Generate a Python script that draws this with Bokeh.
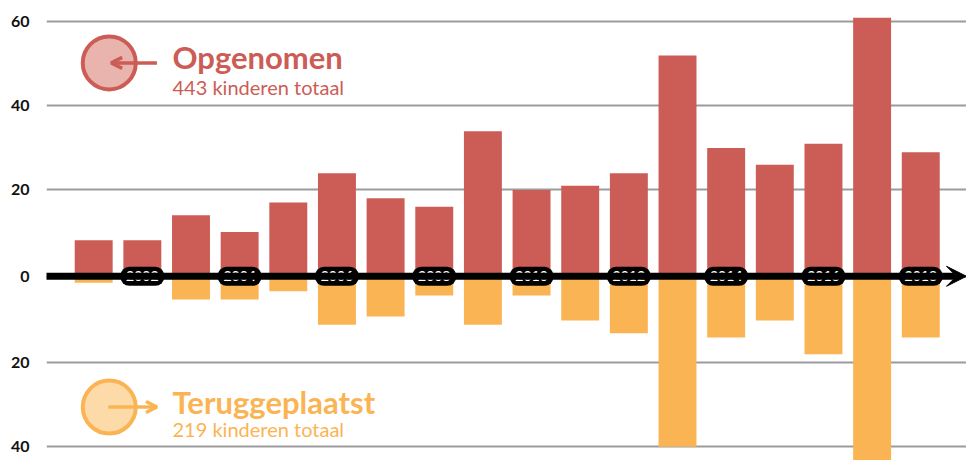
import numpy as np
from bokeh.plotting import figure
from bokeh.models import (ColumnDataSource, FixedTicker, CustomJSTickFormatter, Range1d,
                          Arrow, VeeHead, OpenHead, Label)
from bokeh.embed import file_html
from bokeh.resources import INLINE
from bokeh.core.properties import value

# ---- data ----
years = list(range(2001, 2019))
opgenomen = [8, 8, 14, 10, 17, 24, 18, 16, 34, 20, 21, 24, 52, 30, 26, 31, 61, 29]
teruggeplaatst = [1, 1, 5, 5, 3, 11, 9, 4, 11, 4, 10, 13, 40, 14, 10, 18, 46, 14]
label_years = [2002, 2004, 2006, 2008, 2010, 2012, 2014, 2016, 2018]
tick_values = [60, 40, 20, 0, 20, 40]
opg_title, opg_sub = "Opgenomen", "443 kinderen totaal"
ter_title, ter_sub = "Teruggeplaatst", "219 kinderen totaal"

RED = "#CB5D56"
ORANGE = "#FBB454"
GAP = 1.1  # visual gap (in value units) taken by the thick zero line

p = figure(width=966, height=460, output_backend="svg", toolbar_location=None,
           x_range=Range1d(2000.03, 2018.94), y_range=Range1d(-44.4, 65.1),
           min_border_left=46, min_border_right=0, min_border_top=0, min_border_bottom=0)
p.outline_line_color = None
p.xaxis.visible = False
p.xgrid.visible = False
p.background_fill_color = "white"
p.border_fill_color = "white"

# y axis with labels as absolute values, lower half shifted by the zero-line gap
ticks = [v for v in tick_values[:3]] + [-GAP / 2] + [-v - GAP for v in tick_values[4:]]
p.yaxis.ticker = FixedTicker(ticks=ticks)
p.yaxis.formatter = CustomJSTickFormatter(code="return String(Math.round(Math.abs(tick)/20)*20);")
p.yaxis.axis_line_color = None
p.yaxis.major_tick_line_color = None
p.yaxis.minor_tick_line_color = None
p.yaxis.major_label_standoff = 11
p.yaxis.major_label_text_font = "Lato"
p.yaxis.major_label_text_font_style = "bold"
p.yaxis.major_label_text_font_size = "16px"
p.yaxis.major_label_text_color = "#111111"
p.ygrid.grid_line_color = "#9B9B9B"
p.ygrid.grid_line_width = 2

ter_arr = np.array(teruggeplaatst, dtype=float)
src = ColumnDataSource(dict(year=years, opg=opgenomen,
                            ter_top=[-GAP] * len(years),
                            ter_bottom=list(-GAP - ter_arr)))

p.vbar(x="year", top="opg", bottom=0, width=0.78, source=src,
       fill_color=RED, line_color=None)
p.vbar(x="year", top="ter_top", bottom="ter_bottom", width=0.78, source=src,
       fill_color=ORANGE, line_color=None)

# zero line with arrow head
p.add_layout(Arrow(x_start=1999.95, y_start=-GAP / 2, x_end=2018.94, y_end=-GAP / 2,
                   line_color="black", line_width=7,
                   end=VeeHead(size=20, fill_color="black", line_color="black", line_width=1)))

# year pills
pill_src = ColumnDataSource(dict(x=label_years, y=[-GAP / 2] * len(label_years),
                                 t=[str(y) for y in label_years]))
p.rect(x="x", y="y", width=44, height=19, width_units="screen", height_units="screen",
       source=pill_src, fill_color="black", line_color=None, border_radius=9)
p.text(x="x", y="y", text="t", source=pill_src, text_color="white",
       text_font=value("Lato"), text_font_style="bold", text_font_size="14px",
       text_align="center", text_baseline="middle")

# legend markers
p.scatter(x=[2001.32], y=[50.24], size=53, marker="circle",
          fill_color="#E8B4AD", line_color=RED, line_width=4)
p.scatter(x=[2001.32], y=[-31.67], size=53, marker="circle",
          fill_color="#FDDBA8", line_color=ORANGE, line_width=4)
p.add_layout(Arrow(x_start=2002.30, y_start=50.24, x_end=2001.36, y_end=50.24,
                   line_color=RED, line_width=3.5,
                   end=OpenHead(size=11, line_color=RED, line_width=3.5)))
p.add_layout(Arrow(x_start=2001.30, y_start=-31.67, x_end=2002.30, y_end=-31.67,
                   line_color=ORANGE, line_width=3.5,
                   end=OpenHead(size=11, line_color=ORANGE, line_width=3.5)))

# legend texts
for txt, y, size, style, col in [
    (opg_title, 51.55, "31px", "bold", RED),
    (opg_sub, 44.4, "20px", "normal", RED),
    (ter_title, -30.52, "31px", "bold", ORANGE),
    (ter_sub, -37.02, "20px", "normal", ORANGE),
]:
    p.add_layout(Label(x=2002.62, y=y, text=txt, text_font="Lato", text_font_style=style,
                       text_font_size=size, text_color=col, text_baseline="alphabetic",
                       text_align="left"))

open("out.html", "w").write(file_html(p, INLINE))
